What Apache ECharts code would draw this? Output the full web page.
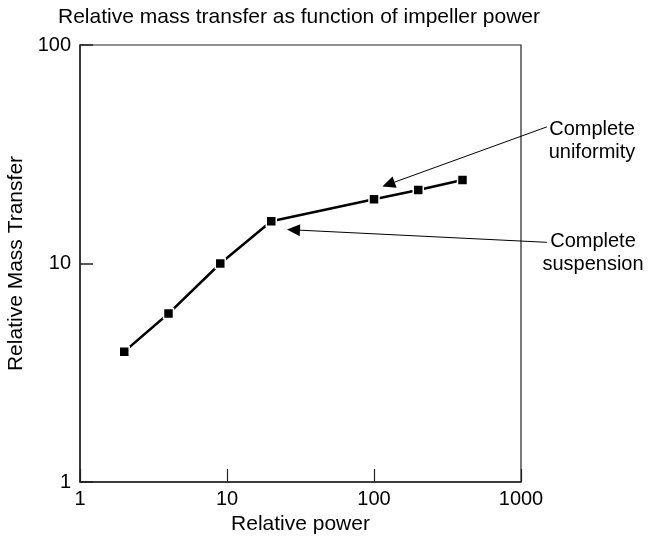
<!DOCTYPE html>
<html>
<head>
    <meta charset="utf-8">
    <title>Relative mass transfer</title>
    <script src="https://cdn.jsdelivr.net/npm/echarts@6/dist/echarts.min.js"></script>
    <style>
        html, body { margin: 0; padding: 0; background: #fff; }
        #main { width: 654px; height: 544px; }
    </style>
</head>
<body>
<div id="main"></div>
<script type="text/javascript">

// measured points (relative power, relative mass transfer)
var power = [2, 4, 9, 20, 100, 200, 400];
var massTransfer = [3.95, 5.9, 10, 15.6, 19.7, 21.7, 24.1];

// arrow annotations: [tail, head] in data space
var uniformityArrow = [[1500, 42.2], [114, 22.5]];
var suspensionArrow = [[1500, 12.5], [25.6, 14.3]];

var labelFont = 'Liberation Sans, Arial, sans-serif';

var myChart = echarts.init(document.getElementById('main'));

myChart.setOption({
    animation: false,
    title: {
        text: 'Relative mass transfer as function of impeller power',
        left: 53,
        top: 2,
        textStyle: { fontFamily: labelFont, fontSize: 21, fontWeight: 'normal', color: '#000' }
    },
    grid: {
        left: 80, right: 133, top: 45, bottom: 62,
        outerBoundsMode: 'none',
        containLabel: false,
        show: true, borderColor: '#222', borderWidth: 1.2
    },
    xAxis: {
        type: 'log',
        logBase: 10,
        min: 1,
        max: 1000,
        name: 'Relative power',
        nameLocation: 'middle',
        nameGap: 31,
        nameTextStyle: { fontFamily: labelFont, fontSize: 21, color: '#000' },
        axisLine: { lineStyle: { color: '#222', width: 1.5 } },
        axisTick: { inside: true, length: 13, lineStyle: { color: '#222', width: 1.2 } },
        minorTick: { show: false },
        splitLine: { show: false },
        axisLabel: {
            fontFamily: labelFont, fontSize: 20, color: '#000', margin: 7,
            formatter: function (v) { return String(v); }
        }
    },
    yAxis: {
        type: 'log',
        logBase: 10,
        min: 1,
        max: 100,
        name: 'Relative Mass Transfer',
        nameLocation: 'middle',
        nameGap: 44,
        nameTextStyle: { fontFamily: labelFont, fontSize: 21, color: '#000' },
        axisLine: { lineStyle: { color: '#222', width: 1.5 } },
        axisTick: { inside: true, length: 13, lineStyle: { color: '#222', width: 1.5 } },
        minorTick: { show: false },
        splitLine: { show: false },
        axisLabel: {
            fontFamily: labelFont, fontSize: 20, color: '#000', margin: 9,
            formatter: function (v) { return String(v); }
        }
    },
    series: [{
        type: 'line',
        data: power.map(function (p, i) { return [p, massTransfer[i]]; }),
        symbol: 'rect',
        symbolSize: 10,
        clip: false,
        itemStyle: { color: '#000', borderColor: '#fff', borderWidth: 1.5 },
        lineStyle: { color: '#000', width: 2.5 }
    }]
});

// arrows and their labels, placed through the chart's own scales
function arrow(tailData, headData) {
    var t = myChart.convertToPixel({ gridIndex: 0 }, tailData);
    var h = myChart.convertToPixel({ gridIndex: 0 }, headData);
    var dx = t[0] - h[0], dy = t[1] - h[1];
    var len = Math.sqrt(dx * dx + dy * dy);
    var ux = dx / len, uy = dy / len;
    var headLen = 13, headW = 6;
    var bx = h[0] + ux * headLen, by = h[1] + uy * headLen;
    return [
        {
            type: 'line',
            shape: { x1: t[0], y1: t[1], x2: bx, y2: by },
            style: { stroke: '#000', lineWidth: 1 }
        },
        {
            type: 'polygon',
            shape: { points: [[h[0], h[1]], [bx - uy * headW, by + ux * headW], [bx + uy * headW, by - ux * headW]] },
            style: { fill: '#000' }
        }
    ];
}

var graphics = arrow(uniformityArrow[0], uniformityArrow[1]).concat(arrow(suspensionArrow[0], suspensionArrow[1]));
graphics.push({
    type: 'text',
    x: 592, y: 141,
    style: {
        text: 'Complete\nuniformity',
        font: '20px ' + labelFont,
        fill: '#000',
        align: 'center',
        verticalAlign: 'middle',
        lineHeight: 23
    }
});
graphics.push({
    type: 'text',
    x: 593, y: 253,
    style: {
        text: 'Complete\nsuspension',
        font: '20px ' + labelFont,
        fill: '#000',
        align: 'center',
        verticalAlign: 'middle',
        lineHeight: 23
    }
});

myChart.setOption({ graphic: graphics });
</script>
</body>
</html>
